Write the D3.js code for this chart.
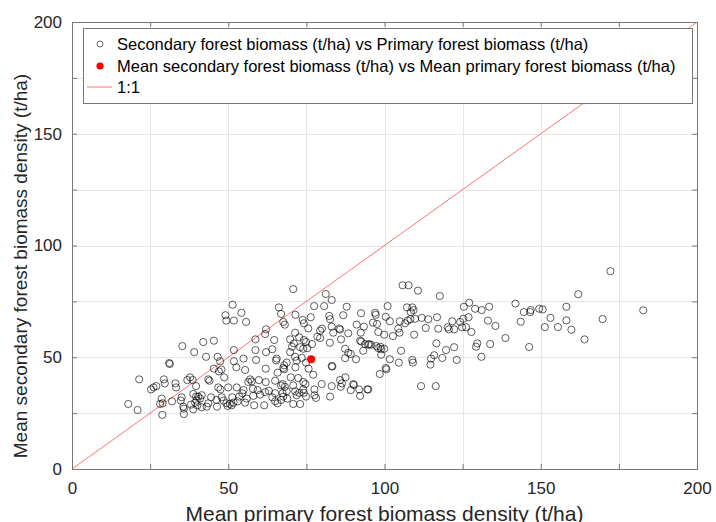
<!DOCTYPE html>
<html>
<head>
<meta charset="utf-8">
<script src="https://cdn.jsdelivr.net/npm/d3@7"></script>
<style>
  body { margin: 0; background: #fff; }
  svg { display: block; font-family: "Liberation Sans", Arial, sans-serif; }
</style>
</head>
<body>
<svg id="chart" width="716" height="522"></svg>
<script>
// primary (x) / secondary (y) forest biomass per site, t/ha
var primaryBiomass = [
  35.3,39.1,31.1,31.3,21.5,29.4,29.7,25.3,26.1,27.0,33.1,33.3,36.9,37.8,38.6,39.7,38.8,39.7,28.7,28.2,
  29.0,35.1,34.8,32.0,18.0,21.0,28.9,35.6,35.8,38.1,39.9,40.1,38.8,35.8,
  51.4,49.1,49.4,51.8,54.2,55.7,66.2,66.9,62.1,61.8,58.7,64.7,42.0,45.4,51.8,58.7,62.1,64.1,42.9,46.6,
  47.4,51.8,54.9,58.9,65.5,65.3,67.9,52.6,55.4,47.0,47.8,62.0,65.8,45.4,48.7,43.6,44.0,57.0,57.5,56.4,
  59.8,62.0,65.0,66.9,46.8,47.5,50.0,52.7,54.9,54.5,57.9,59.4,61.8,63.0,65.0,67.4,40.4,41.5,41.0,44.5,
  46.2,47.9,48.5,51.3,53.5,53.0,55.9,58.0,60.2,64.1,65.0,66.9,39.4,41.5,43.6,43.1,46.4,49.4,49.8,50.5,
  51.1,55.4,58.3,61.5,65.8,51.7,
  81.2,83.1,77.5,80.7,87.9,92.5,86.8,82.3,82.6,73.8,74.2,76.4,71.5,67.6,68.1,75.6,79.4,80.0,83.1,85.5,
  85.8,83.6,88.4,91.1,93.4,92.4,92.2,92.6,95.1,86.1,78.5,79.4,82.5,71.4,72.7,69.8,74.2,74.9,76.8,71.0,
  70.4,73.0,74.0,75.3,69.8,87.4,88.4,89.2,90.9,87.4,93.2,71.4,71.9,73.5,68.7,74.9,71.5,67.6,67.9,75.7,
  77.2,83.1,83.3,70.0,72.4,74.0,74.7,67.4,68.1,70.8,79.9,83.1,85.8,86.4,86.0,87.5,90.0,90.2,89.2,91.9,
  94.5,92.2,71.4,71.9,72.7,74.0,74.2,77.6,68.7,74.9,77.6,78.1,82.6,67.6,68.9,70.8,73.0,70.8,
  105.8,107.7,110.7,117.7,101.0,107.2,108.9,109.3,97.0,97.2,100.4,101.7,104.9,106.6,107.4,108.3,109.8,111.9,114.0,116.8,
  121.7,96.3,97.6,98.0,99.9,102.7,104.4,104.8,109.5,113.2,117.2,120.2,120.6,122.3,116.6,122.3,119.7,115.9,114.9,118.5,
  114.7,93.8,94.8,95.7,97.4,98.0,98.7,98.9,99.9,98.9,105.3,101.7,104.6,108.9,109.1,100.4,100.6,98.5,111.7,116.4,
  94.8,
  127.1,125.4,129.0,131.1,133.5,108.4,124.2,125.2,126.9,133.1,135.5,124.8,126.1,127.8,138.7,129.7,129.3,133.8,131.0,123.1,
  172.3,162.0,141.9,144.6,146.8,146.6,149.5,150.6,158.2,182.8,143.6,153.1,158.2,169.8,151.3,155.5,159.8,146.3,164.0
];
var secondaryBiomass = [
  55.0,52.3,47.4,47.0,40.1,40.1,38.3,35.6,36.5,37.1,38.3,36.5,39.8,41.0,39.8,37.1,33.6,32.4,31.5,29.1,
  29.4,32.1,30.6,30.3,29.1,26.4,24.2,27.9,27.0,28.8,30.6,28.5,26.7,24.6,
  73.5,68.8,66.4,66.4,69.9,65.8,72.3,69.4,62.5,60.4,58.0,57.7,56.8,57.4,53.2,53.2,52.3,53.6,50.2,50.2,
  48.2,48.2,49.4,48.8,49.4,48.6,46.4,45.5,44.3,43.7,44.5,44.9,43.1,44.9,41.0,40.1,39.5,40.1,39.2,38.9,
  39.8,38.9,39.5,37.4,36.5,35.6,36.5,36.5,35.3,33.9,35.9,35.3,34.4,35.0,33.9,33.9,32.4,33.0,31.5,32.1,
  30.9,32.1,30.6,32.1,32.4,30.3,31.5,32.7,33.3,32.1,30.3,30.9,29.7,27.6,29.4,27.9,27.9,29.4,28.2,29.1,
  28.5,29.7,28.5,28.5,29.4,29.7,
  78.3,75.6,72.9,72.9,72.6,69.7,68.8,68.5,67.0,66.7,65.2,67.9,69.0,65.8,64.6,62.9,61.9,62.8,63.7,62.8,
  62.4,61.0,60.7,64.6,63.7,61.0,57.4,57.0,55.9,58.0,59.2,58.6,56.5,61.0,58.9,58.0,57.7,56.8,55.9,56.2,
  54.7,54.5,53.8,54.1,52.3,53.8,52.0,51.5,49.1,49.6,52.9,50.2,48.5,49.7,47.6,47.6,45.5,45.2,44.6,44.9,
  42.2,46.1,45.8,41.0,40.7,38.9,38.0,38.0,36.8,37.4,38.0,37.1,39.8,38.3,36.8,41.0,38.0,37.6,35.3,35.6,
  35.6,32.7,34.8,33.0,34.1,35.6,34.1,35.6,34.8,32.4,33.0,31.8,32.4,32.4,31.5,29.1,29.1,80.5,
  82.2,82.2,79.8,77.4,72.9,72.3,72.3,71.1,69.9,69.0,68.1,66.1,66.1,65.2,66.4,67.0,67.2,67.6,67.0,67.9,
  66.1,65.5,64.9,61.3,60.1,59.5,62.8,61.0,60.1,63.1,62.8,63.4,62.5,62.5,56.2,54.5,53.2,50.9,49.4,49.7,
  46.7,55.9,55.6,55.6,55.0,54.1,54.7,53.6,53.8,51.1,52.9,49.1,47.6,48.8,47.6,45.2,44.6,42.5,37.1,37.1,
  35.6,
  74.4,72.6,71.7,71.1,72.6,70.2,65.8,67.2,67.9,66.4,64.0,63.4,63.4,61.3,58.6,56.2,54.7,55.9,50.2,48.8,
  88.5,78.2,74.0,70.2,71.1,70.2,71.7,71.4,72.6,71.0,65.9,67.6,66.5,67.1,63.5,63.5,62.3,54.6,58.0
];
var meanPrimary = [76.5];
var meanSecondary = [49.1];

var axisDomain = [0, 200];
var tickValues = [0, 25, 50, 75, 100, 125, 150, 175, 200];
var labelledTicks = [0, 50, 100, 150, 200];

var legendLabels = [
  "Secondary forest biomass (t/ha) vs Primary forest biomass (t/ha)",
  "Mean secondary forest biomass (t/ha) vs Mean primary forest biomass (t/ha)",
  "1:1"
];
var xTitle = "Mean primary forest biomass density (t/ha)";
var yTitle = "Mean secondary forest biomass density (t/ha)";

var points = primaryBiomass.map(function (p, i) { return { x: p, y: secondaryBiomass[i] }; });
var means = meanPrimary.map(function (p, i) { return { x: p, y: meanSecondary[i] }; });

var svg = d3.select("#chart");
// plot box in page pixels (window.top is reserved, hence the names)
var plotLeft = 72, plotRight = 697, plotTop = 22, plotBottom = 469;

var x = d3.scaleLinear().domain(axisDomain).range([plotLeft, plotRight]);
var y = d3.scaleLinear().domain(axisDomain).range([plotBottom, plotTop]);

// grid
var grid = svg.append("g").attr("stroke", "#e6e6e6").attr("stroke-width", 1);
grid.selectAll("line.gx").data(tickValues).enter().append("line")
  .attr("x1", function (d) { return Math.round(x(d)) + 0.5; })
  .attr("x2", function (d) { return Math.round(x(d)) + 0.5; })
  .attr("y1", plotTop).attr("y2", plotBottom);
grid.selectAll("line.gy").data(tickValues).enter().append("line")
  .attr("y1", function (d) { return Math.round(y(d)) + 0.5; })
  .attr("y2", function (d) { return Math.round(y(d)) + 0.5; })
  .attr("x1", plotLeft).attr("x2", plotRight);

// 1:1 reference line
svg.append("line")
  .attr("x1", x(0)).attr("y1", y(0))
  .attr("x2", x(200)).attr("y2", y(200))
  .attr("stroke", "#ff0000").attr("stroke-opacity", 0.55).attr("stroke-width", 1);

// site points
svg.append("g").selectAll("circle").data(points).enter().append("circle")
  .attr("cx", function (d) { return x(d.x); })
  .attr("cy", function (d) { return y(d.y); })
  .attr("r", 3.6)
  .attr("fill", "none")
  .attr("stroke", "#000")
  .attr("stroke-opacity", 0.7)
  .attr("stroke-width", 0.9);

// mean point
svg.append("g").selectAll("circle").data(means).enter().append("circle")
  .attr("cx", function (d) { return x(d.x); })
  .attr("cy", function (d) { return y(d.y); })
  .attr("r", 4)
  .attr("fill", "#ff0000");

// axes: ticks inside on all four sides, labels every 50
var tickFmt = function (d) { return labelledTicks.indexOf(d) >= 0 ? d : ""; };
var axisColor = "#777";

var styleAxis = function (g) {
  g.select(".domain").remove();
  g.selectAll(".tick line").attr("stroke", axisColor);
  g.selectAll(".tick text").attr("fill", "#262626").style("font-size", "17px");
};

svg.append("g").attr("transform", "translate(0," + plotBottom + ")")
  .call(d3.axisBottom(x).tickValues(tickValues).tickFormat(tickFmt).tickSizeInner(-5).tickSizeOuter(0).tickPadding(13))
  .call(styleAxis);
svg.append("g").attr("transform", "translate(0," + plotTop + ")")
  .call(d3.axisTop(x).tickValues(tickValues).tickFormat("").tickSizeInner(-5).tickSizeOuter(0))
  .call(styleAxis);
svg.append("g").attr("transform", "translate(" + plotLeft + ",0)")
  .call(d3.axisLeft(y).tickValues(tickValues).tickFormat(tickFmt).tickSizeInner(-5).tickSizeOuter(0).tickPadding(10))
  .call(styleAxis);
svg.append("g").attr("transform", "translate(" + plotRight + ",0)")
  .call(d3.axisRight(y).tickValues(tickValues).tickFormat("").tickSizeInner(-5).tickSizeOuter(0))
  .call(styleAxis);

svg.append("rect")
  .attr("x", plotLeft + 0.5).attr("y", plotTop + 0.5)
  .attr("width", plotRight - plotLeft).attr("height", plotBottom - plotTop)
  .attr("fill", "none").attr("stroke", axisColor).attr("stroke-width", 1);

// axis titles
svg.append("text")
  .attr("x", (plotLeft + plotRight) / 2).attr("y", 521)
  .attr("text-anchor", "middle")
  .attr("fill", "#262626")
  .style("font-size", "21px")
  .text(xTitle);
svg.append("text")
  .attr("transform", "translate(27,266) rotate(-90)")
  .attr("text-anchor", "middle")
  .attr("fill", "#262626")
  .style("font-size", "19px")
  .text(yTitle);

// legend
var lg = svg.append("g");
lg.append("rect")
  .attr("x", 83.5).attr("y", 28.5).attr("width", 609).attr("height", 75)
  .attr("fill", "#fff").attr("stroke", axisColor).attr("stroke-width", 1);
var rowY = [44, 66, 87];
lg.append("circle").attr("cx", 100).attr("cy", rowY[0]).attr("r", 3)
  .attr("fill", "none").attr("stroke", "#000").attr("stroke-opacity", 0.65).attr("stroke-width", 0.9);
lg.append("circle").attr("cx", 100).attr("cy", rowY[1]).attr("r", 3.6).attr("fill", "#ff0000");
lg.append("line").attr("x1", 87).attr("x2", 112).attr("y1", rowY[2]).attr("y2", rowY[2])
  .attr("stroke", "#ff0000").attr("stroke-opacity", 0.55).attr("stroke-width", 1);
lg.selectAll("text").data(legendLabels).enter().append("text")
  .attr("x", 117)
  .attr("y", function (d, i) { return rowY[i]; })
  .attr("dy", "0.35em")
  .attr("fill", "#000")
  .style("font-size", "16.5px")
  .text(function (d) { return d; });
</script>
</body>
</html>
